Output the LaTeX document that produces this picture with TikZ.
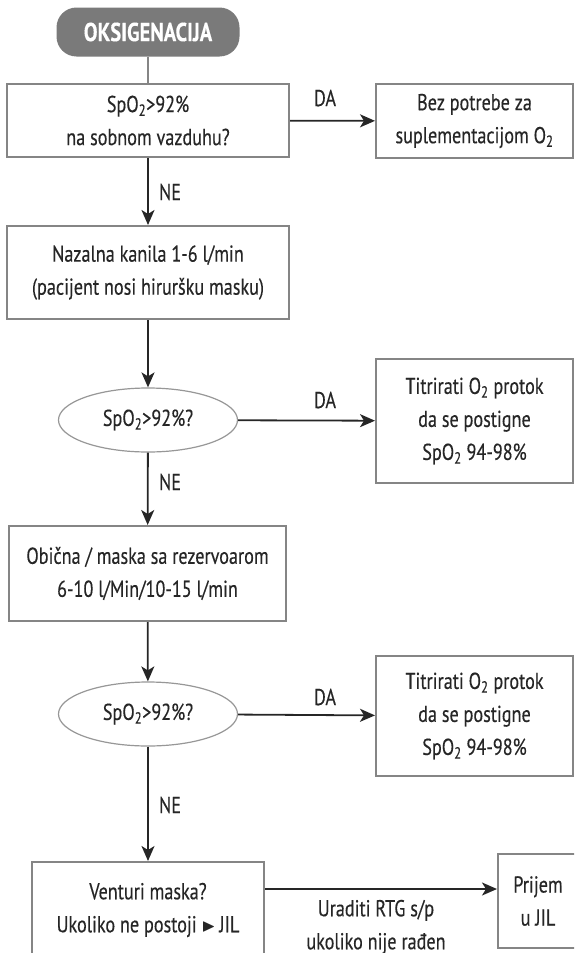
\documentclass[tikz,border=0pt]{standalone}
\usepackage{amssymb}
\usepackage{fontspec}
\setmainfont{PT Sans}[FakeStretch=0.79, FakeBold=0.3]
\usetikzlibrary{arrows.meta,positioning,calc,shapes.geometric}
\definecolor{ink}{HTML}{262626}
\definecolor{framecol}{HTML}{858585}
\definecolor{pillcol}{HTML}{7A7A7A}
\newcommand{\subtwo}{\textsubscript{2}}

\begin{document}
\begin{tikzpicture}[
  x=1pt, y=-1pt, font=\fontsize{23}{33}\selectfont, text=ink,
  box/.style={draw=framecol, line width=2pt, fill=white, align=center, inner sep=0pt},
  query/.style={ellipse, draw=framecol!85, line width=1.2pt, fill=white, inner sep=0pt,
    minimum width=179pt, minimum height=64pt},
  arr/.style={ink, line width=1.8pt, -{Stealth[length=15pt,width=13pt,inset=4pt]}},
  tag/.style={font=\fontsize{23}{33}\selectfont, text=ink}]

\clip (0,0) rectangle (574,953);

% ============================================== start
\node[fill=pillcol, rounded corners=20pt, minimum width=183pt, minimum height=49pt,
  text=white, font=\fontsize{26}{30}\selectfont\bfseries] (start) at (148,32) {OKSIGENACIJA};

% ============================================== room air
\node[box, minimum width=282pt, minimum height=73pt] (air) at (148,120.5)
  {SpO\subtwo>92\%\\ na sobnom vazduhu?};
\node[box, minimum width=197pt, minimum height=74pt] (none) at (474.5,121)
  {Bez potrebe za\\ suplementacijom O\subtwo};

% ============================================== nasal cannula
\node[box, minimum width=282pt, minimum height=93pt] (nasal) at (148,272.5)
  {Nazalna kanila 1-6 l/min\\ (pacijent nosi hiruršku masku)};
\node[query] (qone) at (148,420) {SpO\subtwo>92\%?};
\node[box, minimum width=197pt, minimum height=124pt] (titone) at (474.5,421)
  {Titrirati O\subtwo{} protok\\ da se postigne\\ SpO\subtwo{} 94-98\%};

% ============================================== mask with reservoir
\node[box, minimum width=277pt, minimum height=95pt] (mask) at (147.5,573.5)
  {Obična / maska sa rezervoarom\\ 6-10 l/Min/10-15 l/min};
\node[query] (qtwo) at (148,714) {SpO\subtwo>92\%?};
\node[box, minimum width=197pt, minimum height=120pt] (tittwo) at (474.5,716)
  {Titrirati O\subtwo{} protok\\ da se postigne\\ SpO\subtwo{} 94-98\%};

% ============================================== venturi / ICU
\node[box, minimum width=232pt, minimum height=96pt] (venturi) at (148,910)
  {Venturi maska?\\ Ukoliko ne postoji \raisebox{1pt}{\fontsize{18}{18}\selectfont$\blacktriangleright$}\,JIL};
\node[box, minimum width=80pt, minimum height=94pt] (jil) at (538,901)
  {Prijem\\ u JIL};

% ---------------------------------------------------------------- connectors
\draw[framecol, line width=2pt] (start) -- (air);
\draw[arr] (air) -- (none);
\draw[arr] (air) -- (nasal);
\draw[arr] (nasal) -- (qone);
\draw[arr] (qone) -- (titone);
\draw[arr] (qone) -- (mask);
\draw[arr] (mask) -- (qtwo);
\draw[arr] (qtwo) -- (tittwo);
\draw[arr] (qtwo) -- (venturi);
\draw[arr] ([yshift=21pt]venturi.east) -- ([yshift=21pt]venturi.east -| jil.west);

% ---------------------------------------------------------------- labels
\node[tag] (da1) at (325,98) {DA};
\node[tag] (da2) at (325,400) {DA};
\node[tag] (da3) at (325,697) {DA};
\node[tag] (ne1) at (170,192) {NE};
\node[tag] (ne2) at (170,482) {NE};
\node[tag] (ne3) at (170,805) {NE};
\node[tag, align=center] (rtg) at (376,927) {Uraditi RTG s/p\\ ukoliko nije rađen};

\end{tikzpicture}
\end{document}
